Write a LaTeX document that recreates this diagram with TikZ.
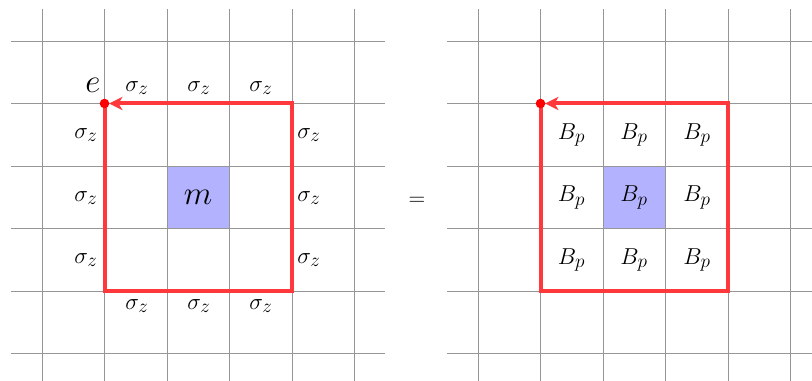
\documentclass[tikz,border=0pt]{standalone}
\usetikzlibrary{arrows.meta}
\definecolor{loopred}{RGB}{255,56,60}
\definecolor{plaq}{RGB}{178,178,255}
\definecolor{gridgray}{RGB}{150,150,150}
\begin{document}
\begin{tikzpicture}[x=0.75pt,y=-0.75pt,
  gridline/.style={draw=gridgray,line width=0.55pt},
  loopline/.style={draw=loopred,line width=3pt,line join=miter},
  lab/.style={font=\fontsize{19}{22}\selectfont,inner sep=0pt},
  biglab/.style={font=\fontsize{24}{28}\selectfont,inner sep=0pt}]
\useasboundingbox (0,0) rectangle (812,381);
% plaquettes
\fill[plaq] (167,166) rectangle (229.5,228.5);
\fill[plaq] (603,166) rectangle (665.5,228.5);
% left grid
\foreach \x in {42,104.5,167,229.5,292,354.5}
  \draw[gridline] (\x,9) -- (\x,381);
\foreach \y in {41,103.5,166,228.5,291,353.5}
  \draw[gridline] (11,\y) -- (385,\y);
% right grid
\foreach \x in {478,540.5,603,665.5,728,790.5}
  \draw[gridline] (\x,9) -- (\x,381);
\foreach \y in {41,103.5,166,228.5,291,353.5}
  \draw[gridline] (447,\y) -- (812,\y);
% left loop
\coordinate (eL) at (104.5,103.5);
\coordinate (blL) at (104.5,291);
\coordinate (brL) at (292,291);
\coordinate (trL) at (292,103.5);
\draw[loopline,-{Stealth[length=10pt,width=10pt,inset=3pt]},shorten >=3.5pt]
  (eL) -- (blL) -- (brL) -- (trL) -- (eL);
\fill[red] (eL) circle (3.6pt);
% right loop
\coordinate (eR) at (540.5,103.5);
\coordinate (blR) at (540.5,291);
\coordinate (brR) at (728,291);
\coordinate (trR) at (728,103.5);
\draw[loopline,-{Stealth[length=10pt,width=10pt,inset=3pt]},shorten >=3.5pt]
  (eR) -- (blR) -- (brR) -- (trR) -- (eR);
\fill[red] (eR) circle (3.6pt);
% labels left
\node[biglab] (e) at (93,85) {$e$};
\node[lab] (t1) at (137,88) {$\sigma_z$};
\node[lab] (t2) at (199,88) {$\sigma_z$};
\node[lab] (t3) at (261,88) {$\sigma_z$};
\node[lab] (l1) at (86,135) {$\sigma_z$};
\node[lab] (l2) at (86,198) {$\sigma_z$};
\node[lab] (l3) at (86,260) {$\sigma_z$};
\node[lab] (r1) at (309,135) {$\sigma_z$};
\node[lab] (r2) at (309,198) {$\sigma_z$};
\node[lab] (r3) at (309,260) {$\sigma_z$};
\node[lab] (b1) at (137,306) {$\sigma_z$};
\node[lab] (b2) at (199,306) {$\sigma_z$};
\node[lab] (b3) at (261,306) {$\sigma_z$};
\node[biglab] (m) at (198,197) {$m$};
% equals
\node[lab] (eq) at (417,201) {$=$};
% labels right
\foreach \i/\x in {1/571.5,2/634,3/697}
  \foreach \j/\y in {1/135,2/197.5,3/260}
    \node[lab] (B\i\j) at (\x,\y) {$B_p$};
\end{tikzpicture}
\end{document}
